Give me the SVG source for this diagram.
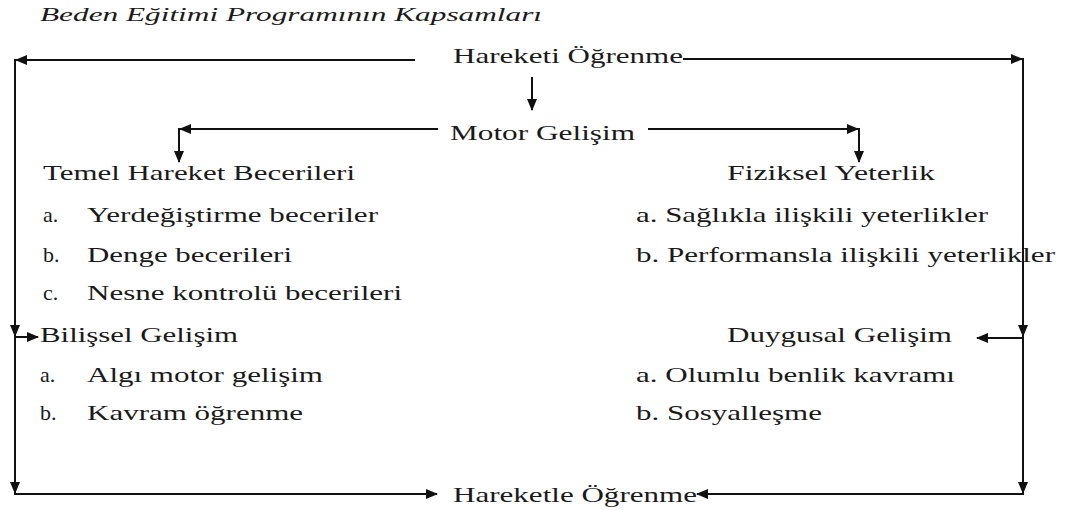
<svg xmlns="http://www.w3.org/2000/svg" width="1065" height="510" viewBox="0 0 1065 510" font-family="'Liberation Serif', 'Times New Roman', Times, serif">
<style>
text{font-family:'Liberation Serif', 'Times New Roman', Times, serif;font-size:22px;fill:#1a1a1a}
.title{font-style:italic;font-size:19px}
.c{fill:none;stroke:#111;stroke-width:2}
</style>
<defs>
<marker id="ah" markerUnits="userSpaceOnUse" markerWidth="12" markerHeight="10" refX="11" refY="5" orient="auto" viewBox="0 0 12 10">
<path d="M0,0 L12,5 L0,10 z" fill="#111"/>
</marker>
</defs>
<rect width="1065" height="510" fill="#fff"/>
<text class="title" x="40" y="21" textLength="502" lengthAdjust="spacingAndGlyphs">Beden Eğitimi Programının Kapsamları</text>
<g id="connectors">
<path class="c" d="M415,60 H16" marker-end="url(#ah)"/>
<path class="c" d="M15,59 V336" marker-end="url(#ah)"/>
<path class="c" d="M15,336 V493" marker-end="url(#ah)"/>
<path class="c" d="M15,337 H38" marker-end="url(#ah)"/>
<path class="c" d="M14,494 H437" marker-end="url(#ah)"/>
<path class="c" d="M683,59 H1022" marker-end="url(#ah)"/>
<path class="c" d="M1023,58 V336" marker-end="url(#ah)"/>
<path class="c" d="M1023,336 V493" marker-end="url(#ah)"/>
<path class="c" d="M1023,338 H977" marker-end="url(#ah)"/>
<path class="c" d="M1024,494 H697" marker-end="url(#ah)"/>
<path class="c" d="M532,77 V110" marker-end="url(#ah)"/>
<path class="c" d="M438,129 H180" marker-end="url(#ah)"/>
<path class="c" d="M179,128 V162" marker-end="url(#ah)"/>
<path class="c" d="M648,129 H858" marker-end="url(#ah)"/>
<path class="c" d="M859,128 V162" marker-end="url(#ah)"/>
</g>
<g id="hareketi-ogrenme"><text x="453" y="63" textLength="230" lengthAdjust="spacingAndGlyphs">Hareketi Öğrenme</text></g>
<g id="motor-gelisim"><text x="450" y="140" textLength="185" lengthAdjust="spacingAndGlyphs">Motor Gelişim</text></g>
<g id="temel-hareket">
<text x="43" y="180" textLength="312" lengthAdjust="spacingAndGlyphs">Temel Hareket Becerileri</text>
<text x="43" y="222">a.</text>
<text x="87" y="222" textLength="291" lengthAdjust="spacingAndGlyphs">Yerdeğiştirme beceriler</text>
<text x="43" y="262">b.</text>
<text x="87" y="262" textLength="205" lengthAdjust="spacingAndGlyphs">Denge becerileri</text>
<text x="43" y="300">c.</text>
<text x="87" y="300" textLength="315" lengthAdjust="spacingAndGlyphs">Nesne kontrolü becerileri</text>
</g>
<g id="fiziksel-yeterlik">
<text x="727" y="180" textLength="208" lengthAdjust="spacingAndGlyphs">Fiziksel Yeterlik</text>
<text x="636" y="222" textLength="352" lengthAdjust="spacingAndGlyphs">a. Sağlıkla ilişkili yeterlikler</text>
<text x="636" y="262" textLength="419" lengthAdjust="spacingAndGlyphs">b. Performansla ilişkili yeterlikler</text>
</g>
<g id="bilissel-gelisim">
<text x="40" y="342" textLength="198" lengthAdjust="spacingAndGlyphs">Bilişsel Gelişim</text>
<text x="40" y="382">a.</text>
<text x="87" y="382" textLength="236" lengthAdjust="spacingAndGlyphs">Algı motor gelişim</text>
<text x="40" y="420">b.</text>
<text x="87" y="420" textLength="216" lengthAdjust="spacingAndGlyphs">Kavram öğrenme</text>
</g>
<g id="duygusal-gelisim">
<text x="727" y="342" textLength="225" lengthAdjust="spacingAndGlyphs">Duygusal Gelişim</text>
<text x="636" y="382" textLength="319" lengthAdjust="spacingAndGlyphs">a. Olumlu benlik kavramı</text>
<text x="636" y="420" textLength="186" lengthAdjust="spacingAndGlyphs">b. Sosyalleşme</text>
</g>
<g id="hareketle-ogrenme"><text x="453" y="502" textLength="244" lengthAdjust="spacingAndGlyphs">Hareketle Öğrenme</text></g>
</svg>
